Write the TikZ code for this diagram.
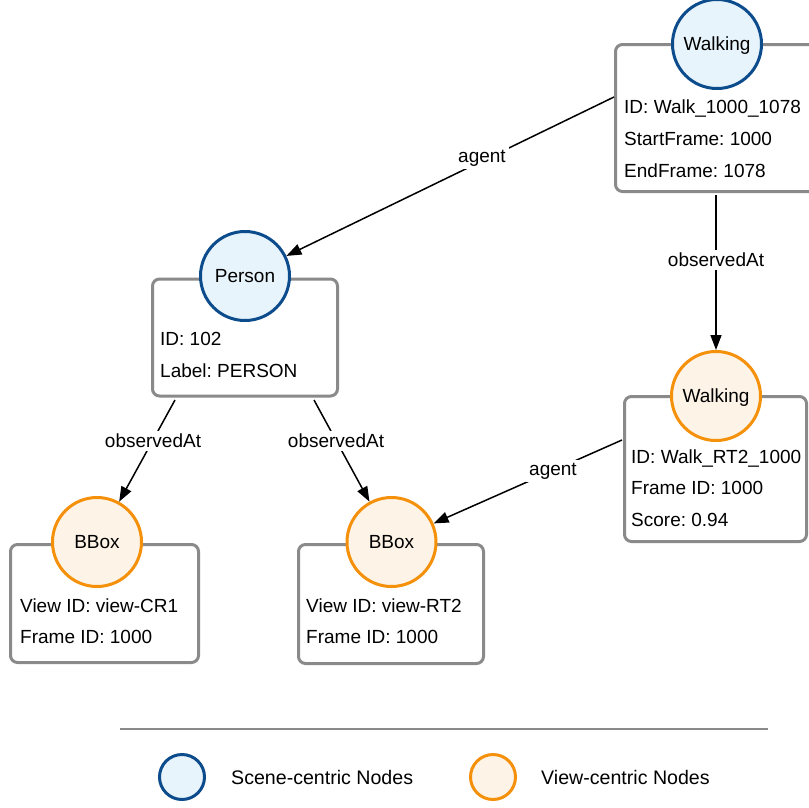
\documentclass[tikz,border=0pt]{standalone}
\usepackage{fontspec}
\setmainfont{Liberation Sans}
\usetikzlibrary{arrows.meta}
\definecolor{sceneline}{RGB}{12,76,140}
\definecolor{scenefill}{RGB}{232,244,252}
\definecolor{viewline}{RGB}{245,144,10}
\definecolor{viewfill}{RGB}{253,243,230}
\definecolor{boxline}{RGB}{138,138,138}
\frenchspacing
\begin{document}
\begin{tikzpicture}[x=1pt,y=-1pt,
  font=\fontsize{19}{22}\selectfont,
  attrbox/.style={draw=boxline,line width=3pt,rounded corners=7pt,fill=white,
    inner sep=0pt},
  scenenode/.style={circle,draw=sceneline,fill=scenefill,line width=3pt,
    minimum size=89pt,inner sep=0pt,text height=13.5pt,text depth=0pt},
  viewnode/.style={circle,draw=viewline,fill=viewfill,line width=3pt,
    minimum size=89pt,inner sep=0pt,text height=13.5pt,text depth=0pt},
  attr/.style={anchor=base west,inner sep=0pt},
  rel/.style={-{Triangle[length=15pt,width=11pt]},line width=1.5pt},
  rellabel/.style={fill=white,inner sep=3pt},
  legendtext/.style={anchor=west,inner sep=0pt,font=\fontsize{19.6}{22}\selectfont}]
\useasboundingbox (0,0) rectangle (809,807);

% attribute boxes
\node[attrbox,minimum width=213pt,minimum height=147pt] (wbox) at (722,118) {};
\node[attrbox,minimum width=185pt,minimum height=117pt] (pbox) at (245,337.5) {};
\node[attrbox,minimum width=182pt,minimum height=145pt] (vbox) at (715.5,469) {};
\node[attrbox,minimum width=188pt,minimum height=118pt] (b1box) at (104.5,603.5) {};
\node[attrbox,minimum width=185pt,minimum height=119pt] (b2box) at (391,604) {};

% entity circles
\node[scenenode] (walk) at (717,44) {Walking};
\node[scenenode] (person) at (245,276) {Person};
\node[viewnode] (vwalk) at (716,396) {Walking};
\node[viewnode] (bbox1) at (97,542) {BBox};
\node[viewnode] (bbox2) at (391.5,542) {BBox};

% attributes
\node[attr] (w1) at (624,113) {ID: Walk\_1000\_1078};
\node[attr] (w2) at (624,145) {StartFrame: 1000};
\node[attr] (w3) at (624,177) {EndFrame: 1078};
\node[attr] (p1) at (160,345) {ID: 102};
\node[attr] (p2) at (160,377) {Label: PERSON};
\node[attr] (v1) at (631,463) {ID: Walk\_RT2\_1000};
\node[attr] (v2) at (631,494) {Frame ID: 1000};
\node[attr] (v3) at (631,526) {Score: 0.94};
\node[attr] (c1) at (20,612) {View ID: view-CR1};
\node[attr] (c2) at (20,643) {Frame ID: 1000};
\node[attr] (r1) at (306,612) {View ID: view-RT2};
\node[attr] (r2) at (306,643) {Frame ID: 1000};

% connector start points on the box borders
\coordinate (s1) at (614,97);
\coordinate (s2) at (716,195);
\coordinate (s3) at (175,400);
\coordinate (s4) at (314,400);
\coordinate (s5) at (622,440);

% relations
\draw[rel] (s1) -- (person);
\draw[rel] (s2) -- (vwalk);
\draw[rel] (s3) -- (bbox1);
\draw[rel] (s4) -- (bbox2);
\draw[rel] (s5) -- (bbox2);
\node[rellabel] (l1) at (482,158) {agent};
\node[rellabel] (l2) at (716,260) {observedAt};
\node[rellabel] (l3) at (153,441) {observedAt};
\node[rellabel] (l4) at (336,441) {observedAt};
\node[rellabel] (l5) at (553,471) {agent};

% legend
\coordinate (ll) at (120,729);
\coordinate (lr) at (768,729);
\draw[boxline,line width=2pt] (ll) -- (lr);
\node[circle,draw=sceneline,fill=scenefill,line width=3pt,minimum size=45pt,inner sep=0pt] (lg1) at (182,777) {};
\node[legendtext] (lt1) at (231,777) {Scene-centric Nodes};
\node[circle,draw=viewline,fill=viewfill,line width=3pt,minimum size=45pt,inner sep=0pt] (lg2) at (493,777) {};
\node[legendtext] (lt2) at (541,777) {View-centric Nodes};
\end{tikzpicture}
\end{document}
